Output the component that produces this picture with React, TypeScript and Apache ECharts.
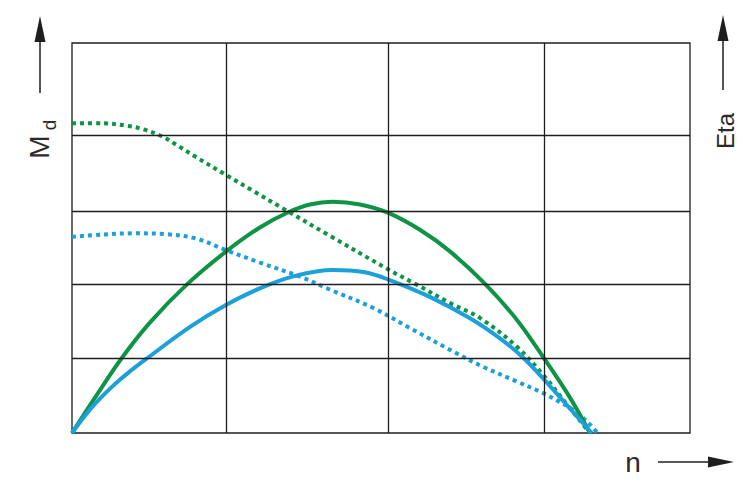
import React, { useEffect, useRef } from "react";
import * as echarts from "echarts";

// x: speed n (0..100 of plot width), y: 0..100 of plot height
const gridX = [24.9, 51.1, 76.4];
const gridY = [19.1, 38.1, 56.9, 76.3];

const greenSolid: [number, number][] = [
  [0, 0], [3.7, 9.0], [8.0, 19.1], [12.6, 28.3], [18.6, 38.1], [24.9, 46.5],
  [30.4, 52.7], [35.0, 56.6], [38.5, 58.6], [42.2, 59.3], [46.6, 58.6],
  [51.1, 56.5], [56.3, 52.1], [61.2, 46.5], [66.8, 38.3], [72.0, 29.0],
  [76.4, 19.1], [80.6, 9.0], [83.8, 0],
];
const blueSolid: [number, number][] = [
  [0, 0], [3, 6.2], [6.5, 11.9], [9.7, 16.2], [12.1, 19.1], [19.1, 27.2],
  [24.9, 32.8], [30.4, 37.1], [36.1, 40.3], [42.2, 41.8], [47.4, 41.2],
  [51.1, 39.4], [57.9, 34.9], [64.4, 29.4], [69.3, 24.2], [72.8, 19.6],
  [76.4, 13.7], [80.0, 7.3], [84.1, 0],
];
const greenDotted: [number, number][] = [
  [0, 79.4], [5, 79.4], [8.8, 78.8], [11.5, 77.9], [14.5, 76.1], [17.0, 73.8],
  [19.6, 71.2], [24.9, 66.2], [29.6, 61.8], [34.1, 57.6], [41.7, 50.6],
  [51.1, 42.0], [55.7, 38.1], [61.2, 33.3], [66.0, 29.5], [72.0, 22.1],
  [76.4, 14.6], [79.8, 7.9], [83.8, 0],
];
const blueDotted: [number, number][] = [
  [0, 50.3], [5, 50.9], [10, 51.2], [15, 51.0], [20, 49.9], [24.9, 46.9],
  [30.4, 43.7], [36.9, 40.1], [41.7, 36.8], [48.7, 32.1], [54.7, 26.9],
  [61.2, 21.3], [66.5, 17.0], [72.0, 13.2], [76.4, 10.1], [79.0, 7.9],
  [81.4, 5.6], [83.8, 2.2], [85.0, 0],
];

const GREEN = "#0f9445";
const BLUE = "#1ba0d9";
const INK = "#1e1e1e";
const FONT = '"Liberation Sans", Arial, sans-serif';

export default function App() {
  const ref = useRef<HTMLDivElement>(null);
  useEffect(() => {
    if (!ref.current) return;
    const chart = echarts.init(ref.current, undefined, { renderer: "svg" });
    const lineSeries = (data: [number, number][], color: string, dotted: boolean) => ({
      type: "line",
      data,
      smooth: 0.35,
      symbol: "none",
      silent: true,
      z: 3,
      lineStyle: {
        color,
        width: 4,
        type: dotted ? [4, 4] : "solid",
        cap: "butt",
      },
    });
    chart.setOption({
      animation: false,
      backgroundColor: "#ffffff",
      grid: {
        left: 72,
        top: 43,
        right: 65,
        bottom: 55,
        show: true,
        borderColor: INK,
        borderWidth: 1.3,
        backgroundColor: "transparent",
      },
      xAxis: {
        type: "value",
        min: 0,
        max: 100,
        axisLine: { show: false },
        axisTick: { show: false },
        axisLabel: { show: false },
        splitLine: { show: false },
      },
      yAxis: {
        type: "value",
        min: 0,
        max: 100,
        axisLine: { show: false },
        axisTick: { show: false },
        axisLabel: { show: false },
        splitLine: { show: false },
      },
      series: [
        {
          type: "line",
          data: [],
          z: 1,
          silent: true,
          markLine: {
            silent: true,
            symbol: "none",
            label: { show: false },
            lineStyle: { color: INK, width: 1.3, type: "solid" },
            data: [
              ...gridX.map((v) => ({ xAxis: v })),
              ...gridY.map((v) => ({ yAxis: v })),
            ],
          },
        },
        lineSeries(greenDotted, GREEN, true),
        lineSeries(blueDotted, BLUE, true),
        lineSeries(greenSolid, GREEN, false),
        lineSeries(blueSolid, BLUE, false),
      ],
      graphic: [
        { type: "line", shape: { x1: 40, y1: 93, x2: 40, y2: 40 }, style: { stroke: INK, lineWidth: 1.5 } },
        { type: "polygon", shape: { points: [[40, 16], [34.5, 42], [45.5, 42]] }, style: { fill: INK } },
        { type: "line", shape: { x1: 723, y1: 90, x2: 723, y2: 40 }, style: { stroke: INK, lineWidth: 1.5 } },
        { type: "polygon", shape: { points: [[723, 15], [717.5, 41], [728.5, 41]] }, style: { fill: INK } },
        { type: "line", shape: { x1: 658, y1: 462, x2: 712, y2: 462 }, style: { stroke: INK, lineWidth: 1.5 } },
        { type: "polygon", shape: { points: [[734, 462], [708, 456.5], [708, 467.5]] }, style: { fill: INK } },
        {
          type: "text", x: 39, y: 147, rotation: Math.PI / 2,
          style: { text: "M", fontSize: 28, fontFamily: FONT, fill: "#2a2a2a", align: "center", verticalAlign: "middle" },
        },
        {
          type: "text", x: 49, y: 125, rotation: Math.PI / 2,
          style: { text: "d", fontSize: 19, fontFamily: FONT, fill: "#2a2a2a", align: "center", verticalAlign: "middle" },
        },
        {
          type: "text", x: 725, y: 131, rotation: Math.PI / 2,
          style: { text: "Eta", fontSize: 24, fontFamily: FONT, fill: "#2a2a2a", align: "center", verticalAlign: "middle" },
        },
        {
          type: "text", x: 633, y: 462,
          style: { text: "n", fontSize: 28, fontFamily: FONT, fill: "#2a2a2a", align: "center", verticalAlign: "middle" },
        },
      ],
    });
    return () => chart.dispose();
  }, []);
  return (
    <div
      ref={ref}
      style={{ position: "absolute", left: 0, top: 0, width: 755, height: 488 }}
    />
  );
}
